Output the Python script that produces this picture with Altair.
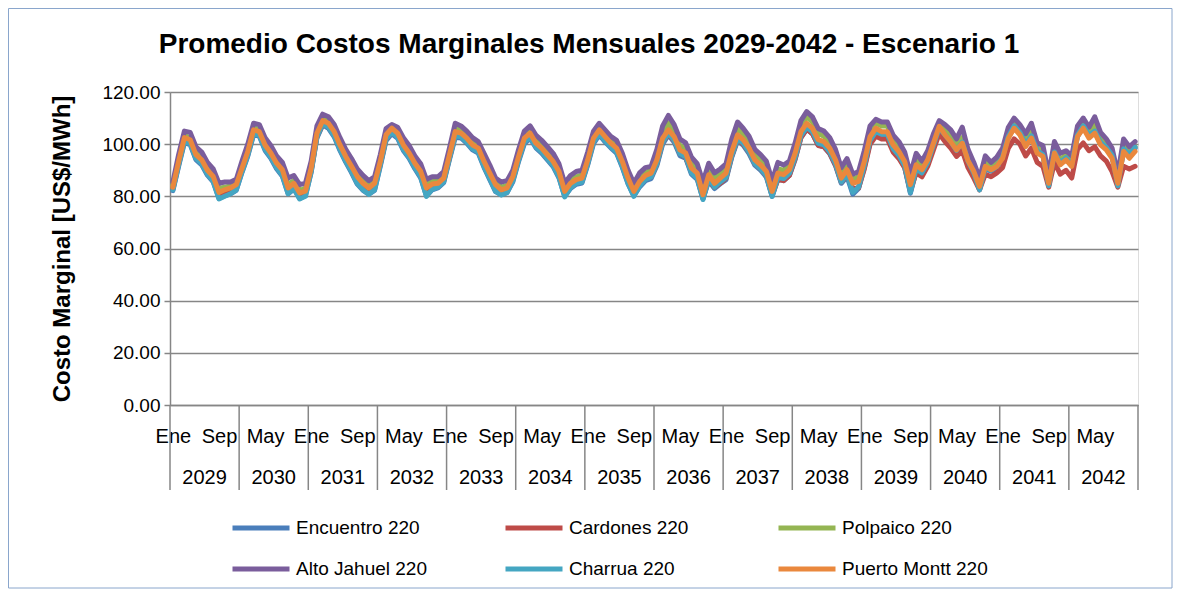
import altair as alt
import pandas as pd

# ---------------- data ----------------
title_text = "Promedio Costos Marginales Mensuales 2029-2042 - Escenario 1"
years = [str(y) for y in range(2029, 2043)]
series_names = ["Encuentro 220", "Cardones 220", "Polpaico 220",
                "Alto Jahuel 220", "Charrua 220", "Puerto Montt 220"]
series_colors = ["#4A7EBB", "#BE4B48", "#94B553", "#7A5D9C", "#44A6C2", "#EA883D"]

month_tick_pos = [0, 8, 16, 24, 32, 40, 48, 56, 64, 72, 80, 88, 96, 104, 112, 120, 128, 136, 144, 152, 160]
month_tick_text = ["Ene", "Sep", "May", "Ene", "Sep", "May", "Ene", "Sep", "May", "Ene", "Sep",
                   "May", "Ene", "Sep", "May", "Ene", "Sep", "May", "Ene", "Sep", "May"]
y_ticks = [0, 20, 40, 60, 80, 100, 120]

encuentro = [
    82.2, 91.6, 100.6, 99.8, 94.1, 92.1, 88.1, 85.5, 79.2, 80.2, 81.0, 82.3,
    89.2, 95.4, 103.6, 103.1, 97.6, 94.6, 90.6, 87.7, 81.0, 82.8, 79.2, 80.2,
    89.2, 102.4, 107.4, 106.1, 102.8, 97.6, 93.1, 89.1, 84.7, 82.3, 80.8, 82.3,
    91.6, 101.4, 104.0, 102.3, 97.6, 94.6, 90.6, 87.1, 80.2, 82.5, 83.2, 85.2,
    94.1, 102.6, 102.4, 100.4, 97.8, 96.6, 91.1, 86.4, 81.8, 80.6, 81.4, 85.6,
    93.4, 100.2, 102.3, 98.6, 96.6, 94.0, 91.4, 87.1, 80.0, 83.0, 84.6, 85.1,
    92.1, 100.2, 103.6, 100.9, 98.6, 96.6, 91.1, 84.8, 80.2, 83.6, 86.0, 86.8,
    91.8, 100.0, 103.5, 100.8, 95.6, 94.6, 88.5, 86.5, 79.0, 86.0, 83.0, 84.8,
    86.4, 95.0, 101.3, 99.6, 96.4, 92.0, 90.0, 87.4, 80.0, 86.6, 86.0, 88.0,
    94.2, 102.5, 105.8, 104.0, 99.6, 99.0, 96.4, 91.8, 85.0, 87.6, 80.8, 83.0,
    91.0, 100.8, 104.0, 103.0, 103.0, 97.6, 95.0, 91.2, 81.2, 89.8, 88.4, 92.4,
    99.0, 105.6, 103.0, 100.4, 97.0, 100.2, 93.0, 88.6, 82.6, 90.6, 89.6, 91.0,
    94.6, 102.6, 106.6, 104.0, 99.6, 102.8, 97.0, 95.6, 84.2, 96.6, 92.4, 94.4,
    91.6, 103.0, 106.6, 103.0, 104.6, 100.4, 98.4, 95.4, 84.2, 97.8, 95.6, 98.4,
]
cardones = [
    83.0, 92.6, 101.8, 100.9, 95.2, 93.2, 89.2, 86.8, 80.8, 81.8, 82.5, 83.8,
    90.0, 96.4, 104.7, 104.0, 98.9, 95.8, 91.9, 89.4, 82.5, 84.2, 80.6, 81.3,
    90.0, 103.0, 107.5, 106.8, 103.6, 98.7, 94.5, 90.7, 86.8, 84.2, 82.4, 84.2,
    92.5, 102.0, 104.8, 103.2, 98.9, 95.8, 91.9, 88.8, 82.4, 83.8, 84.0, 86.0,
    94.8, 103.5, 103.2, 101.4, 98.9, 97.5, 92.5, 88.0, 83.6, 81.7, 82.4, 86.6,
    94.3, 101.3, 103.2, 99.5, 97.5, 94.9, 92.5, 88.7, 81.1, 84.0, 85.3, 85.9,
    93.0, 101.3, 104.5, 101.9, 99.4, 97.5, 92.4, 86.0, 81.0, 84.5, 86.8, 87.5,
    92.5, 100.8, 103.8, 101.4, 96.4, 95.0, 89.4, 87.3, 79.5, 86.5, 83.5, 85.0,
    87.0, 95.5, 101.8, 100.0, 97.0, 92.5, 90.5, 88.0, 80.5, 86.5, 86.0, 88.0,
    94.5, 102.5, 105.8, 104.0, 99.5, 99.0, 96.5, 92.0, 85.5, 88.0, 83.0, 83.2,
    90.5, 100.0, 103.0, 102.0, 102.0, 97.0, 94.5, 91.0, 82.0, 89.0, 87.5, 91.5,
    97.8, 104.0, 101.0, 98.5, 95.3, 97.5, 91.0, 87.0, 82.5, 88.5, 87.5, 89.0,
    91.0, 98.5, 102.0, 100.0, 95.5, 98.5, 93.0, 91.5, 83.5, 93.0, 88.5, 90.0,
    87.0, 98.0, 100.5, 97.5, 99.0, 95.5, 93.5, 89.5, 83.5, 91.5, 90.5, 91.5,
]
polpaico = [
    84.2, 94.2, 103.3, 102.5, 97.0, 95.0, 91.0, 88.6, 83.0, 83.5, 84.0, 85.2,
    91.6, 98.0, 106.3, 105.6, 100.6, 97.6, 93.7, 91.2, 84.5, 86.0, 82.3, 83.0,
    91.6, 105.0, 109.8, 108.8, 105.7, 100.7, 96.3, 92.5, 88.6, 86.0, 84.2, 86.0,
    94.2, 104.4, 106.6, 105.0, 100.6, 97.6, 93.7, 90.6, 84.5, 85.7, 86.0, 88.0,
    96.9, 106.0, 105.5, 103.3, 100.8, 99.5, 94.5, 90.0, 85.5, 83.5, 84.2, 88.6,
    96.3, 103.5, 105.5, 101.6, 99.6, 97.0, 94.5, 90.6, 83.0, 86.2, 87.5, 88.2,
    95.2, 103.5, 106.5, 104.0, 101.5, 99.7, 94.5, 88.2, 83.0, 86.9, 89.2, 90.0,
    95.5, 104.0, 108.0, 104.5, 99.5, 98.0, 92.5, 90.5, 82.0, 90.0, 87.0, 88.5,
    90.5, 99.5, 106.0, 103.8, 100.5, 96.0, 94.0, 91.5, 83.5, 90.5, 90.0, 92.0,
    98.5, 107.0, 110.5, 108.5, 104.0, 103.0, 100.5, 96.0, 88.5, 92.0, 86.5, 87.5,
    95.5, 105.0, 108.0, 107.0, 107.0, 101.5, 99.0, 95.5, 86.0, 94.0, 92.0, 95.5,
    102.0, 108.0, 105.5, 103.0, 99.5, 102.5, 95.5, 91.0, 85.0, 93.0, 91.5, 93.0,
    96.5, 104.5, 108.5, 106.0, 101.5, 105.0, 98.5, 97.5, 86.5, 98.5, 94.0, 96.0,
    93.5, 105.0, 108.5, 104.5, 107.5, 102.0, 100.0, 96.5, 86.5, 99.5, 96.5, 99.0,
]
alto_jahuel = [
    85.5, 96.0, 105.0, 104.5, 99.0, 97.0, 93.0, 90.5, 85.0, 85.5, 85.5, 86.5,
    93.5, 100.0, 108.0, 107.5, 102.5, 99.5, 95.5, 93.0, 87.0, 88.0, 84.5, 85.0,
    93.5, 107.0, 111.5, 110.5, 107.5, 102.5, 98.0, 94.5, 90.5, 88.0, 86.0, 87.5,
    96.0, 106.0, 107.5, 106.5, 102.5, 99.5, 95.5, 92.5, 86.5, 87.5, 87.5, 89.5,
    98.5, 108.0, 107.0, 105.0, 102.5, 101.0, 96.5, 92.0, 87.0, 85.5, 86.0, 90.0,
    98.0, 105.0, 107.0, 103.5, 101.5, 99.0, 96.5, 92.5, 85.0, 88.0, 89.5, 90.0,
    97.0, 105.0, 108.0, 105.5, 103.0, 101.5, 96.5, 90.0, 85.0, 89.0, 91.0, 91.5,
    98.0, 107.0, 111.0, 107.5, 102.0, 100.5, 95.0, 92.5, 85.5, 92.7, 89.0, 90.5,
    92.5, 102.0, 108.5, 106.0, 103.0, 98.0, 96.0, 93.5, 86.0, 93.0, 92.0, 93.5,
    100.5, 109.0, 112.5, 110.5, 106.0, 105.0, 102.5, 98.0, 91.0, 94.5, 88.5, 89.5,
    97.5, 107.0, 109.5, 108.5, 108.5, 103.5, 101.0, 97.0, 88.5, 96.5, 93.5, 97.5,
    104.0, 109.0, 107.5, 105.5, 102.0, 106.5, 98.0, 93.0, 87.0, 95.5, 93.0, 95.0,
    98.5, 106.5, 110.0, 107.5, 104.0, 108.0, 100.5, 99.5, 88.5, 101.0, 96.5, 97.5,
    95.5, 107.0, 110.0, 106.5, 110.5, 104.5, 102.0, 98.5, 88.5, 102.0, 99.0, 101.0,
]
charrua = [
    82.5, 92.0, 101.0, 100.2, 94.5, 92.5, 88.5, 85.8, 79.0, 80.0, 81.0, 82.5,
    89.5, 95.8, 104.0, 103.5, 98.0, 95.0, 91.0, 88.0, 81.0, 83.0, 79.0, 80.0,
    89.5, 102.8, 107.8, 106.5, 103.2, 98.0, 93.5, 89.5, 85.0, 82.5, 80.8, 82.5,
    92.0, 102.0, 104.5, 102.7, 98.0, 95.0, 91.0, 87.5, 80.0, 82.7, 83.5, 85.5,
    94.5, 103.2, 102.8, 100.8, 98.2, 97.0, 91.5, 86.8, 82.0, 80.5, 81.5, 86.0,
    93.8, 100.8, 102.7, 99.0, 97.0, 94.4, 91.8, 87.5, 79.8, 83.3, 85.0, 85.5,
    92.5, 100.8, 104.0, 101.3, 99.0, 97.0, 91.5, 85.0, 80.0, 84.0, 86.5, 87.4,
    92.5, 100.8, 104.2, 101.5, 96.3, 95.2, 89.0, 87.0, 78.8, 86.8, 83.5, 85.5,
    87.2, 95.7, 102.0, 100.3, 97.0, 92.5, 90.5, 88.0, 80.0, 87.3, 86.8, 88.8,
    95.0, 103.3, 106.5, 104.8, 100.3, 99.7, 97.0, 92.5, 85.5, 88.5, 81.5, 83.5,
    91.8, 101.5, 104.8, 103.8, 103.8, 98.3, 95.7, 91.8, 81.5, 90.6, 89.0, 93.0,
    99.6, 106.2, 103.6, 101.0, 97.6, 100.8, 93.5, 89.0, 82.5, 91.0, 90.0, 91.5,
    95.0, 103.0, 107.0, 104.5, 100.0, 103.2, 97.4, 96.0, 84.0, 97.0, 92.8, 94.8,
    92.0, 103.5, 107.0, 103.5, 105.0, 100.8, 98.8, 95.8, 84.0, 98.2, 96.0, 98.8,
]
puerto_montt = [
    83.5, 93.4, 102.5, 101.7, 96.0, 94.0, 90.0, 87.6, 81.5, 82.5, 83.2, 84.5,
    90.8, 97.2, 105.5, 104.8, 99.7, 96.6, 92.7, 90.2, 83.2, 85.0, 81.3, 82.0,
    90.8, 104.2, 109.0, 108.0, 104.8, 99.7, 95.3, 91.5, 87.6, 85.0, 83.2, 85.0,
    93.4, 103.6, 106.1, 104.2, 99.7, 96.6, 92.7, 89.6, 83.2, 84.7, 85.0, 87.0,
    95.9, 104.8, 104.2, 102.3, 99.7, 98.5, 93.4, 88.9, 84.5, 82.5, 83.2, 87.6,
    95.3, 102.3, 104.2, 100.4, 98.5, 95.9, 93.4, 89.6, 81.9, 85.0, 86.4, 87.0,
    94.0, 102.3, 105.5, 102.9, 100.4, 98.5, 93.4, 87.0, 81.9, 85.7, 88.0, 88.9,
    94.0, 102.3, 105.5, 102.9, 97.8, 96.6, 90.8, 88.9, 80.6, 88.3, 85.0, 87.0,
    88.9, 97.2, 103.6, 101.7, 98.5, 94.0, 92.1, 89.6, 81.9, 88.9, 88.3, 90.2,
    96.6, 104.8, 108.0, 106.1, 101.7, 101.0, 98.5, 94.0, 87.0, 90.2, 85.0, 85.7,
    93.4, 102.9, 106.1, 104.8, 104.8, 99.7, 97.2, 93.4, 84.5, 92.1, 90.2, 94.0,
    100.4, 106.8, 103.6, 101.0, 97.8, 100.4, 93.7, 89.6, 83.8, 91.5, 90.2, 91.5,
    94.6, 102.3, 106.1, 103.6, 99.1, 102.3, 96.6, 95.3, 85.0, 96.6, 92.1, 94.0,
    91.5, 102.9, 106.1, 102.3, 104.2, 99.7, 97.8, 94.6, 85.0, 97.2, 94.6, 97.2,
]

all_series = [encuentro, cardones, polpaico, alto_jahuel, charrua, puerto_montt]

rows = []
for name, vals in zip(series_names, all_series):
    for i, v in enumerate(vals):
        rows.append({"idx": i, "serie": name, "valor": v})
df = pd.DataFrame(rows)

n_years = len(years)
year_df = pd.DataFrame({"idx": [12 * k + 5.5 for k in range(n_years)], "anio": years})
sep_df = pd.DataFrame({"idx": [12 * k - 0.5 for k in range(n_years + 1)]})

# ---------------- layout ----------------
W, H = 968, 313
PAD = {"left": 162, "top": 84, "right": 35, "bottom": 184}
FONT = "Liberation Sans"
GRAY = "#868686"

label_expr = " : ".join(
    f"datum.value == {p} ? '{t}'" for p, t in zip(month_tick_pos, month_tick_text)
) + " : ''"

x_enc = alt.X(
    "idx:Q",
    scale=alt.Scale(domain=[-0.5, 167.5], nice=False, zero=False),
    axis=alt.Axis(values=month_tick_pos, labelExpr=label_expr, title=None,
                  ticks=False, grid=False, domainColor=GRAY, domainWidth=1.5,
                  labelFontSize=20, labelPadding=21, labelAngle=0,
                  labelOverlap=False, labelFlush=False, labelColor="black",
                  labelFont=FONT),
)

y_enc = alt.Y(
    "valor:Q",
    scale=alt.Scale(domain=[0, 120], nice=False, zero=True),
    axis=alt.Axis(values=y_ticks, format=".2f", title="Costo Marginal [US$/MWh]",
                  titleFontSize=24, titleFontWeight="bold", titlePadding=27,
                  titleFont=FONT, titleColor="black",
                  labelFontSize=19, labelFont=FONT, labelColor="black", labelPadding=4,
                  domainColor=GRAY, domainWidth=1.5, tickColor=GRAY, tickSize=6,
                  tickWidth=1.5, gridColor=GRAY, gridWidth=1.5),
)

color_enc = alt.Color(
    "serie:N",
    scale=alt.Scale(domain=series_names, range=series_colors),
    legend=alt.Legend(orient="none", legendX=60, legendY=405, direction="horizontal",
                      columns=3, title=None, symbolType="stroke", symbolSize=3249,
                      symbolStrokeWidth=5, labelFontSize=19, labelFont=FONT,
                      labelColor="black", gridAlign="all", columnPadding=53,
                      rowPadding=-9, labelOffset=4, labelLimit=400),
)

border = alt.Chart(pd.DataFrame({"a": [0]})).mark_rect(
    fill=None, stroke="#8AA6CC", strokeWidth=1
).encode(
    x=alt.value(-PAD["left"] + 0.5), x2=alt.value(W + PAD["right"] - 1),
    y=alt.value(-PAD["top"] + 0.5), y2=alt.value(H + PAD["bottom"] - 1),
)

title_mark = alt.Chart(pd.DataFrame({"t": [title_text]})).mark_text(
    fontSize=28, font=FONT, fontWeight="bold", color="black",
    baseline="middle", align="center"
).encode(x=alt.value(419), y=alt.value(-47), text="t:N")

line_layers = []
for name in series_names:
    line_layers.append(
        alt.Chart(df).transform_filter(alt.datum.serie == name).mark_line(
            strokeWidth=5, strokeJoin="round", strokeCap="round"
        ).encode(x=x_enc, y=y_enc, color=color_enc)
    )

seps = alt.Chart(sep_df).mark_rule(color=GRAY, strokeWidth=1.5).encode(
    x=x_enc, y=alt.value(H), y2=alt.value(H + 85)
)

year_text = alt.Chart(year_df).mark_text(
    fontSize=20, font=FONT, color="black", baseline="middle", align="center"
).encode(x=x_enc, y=alt.value(H + 73), text="anio:N")

chart = alt.layer(border, title_mark, *line_layers, seps, year_text).properties(
    width=W, height=H,
    padding=PAD,
    autosize=alt.AutoSizeParams(type="none"),
).configure_view(stroke=None).configure(background="white")

chart.save("out.html", embed_options={"renderer": "svg", "actions": False})
